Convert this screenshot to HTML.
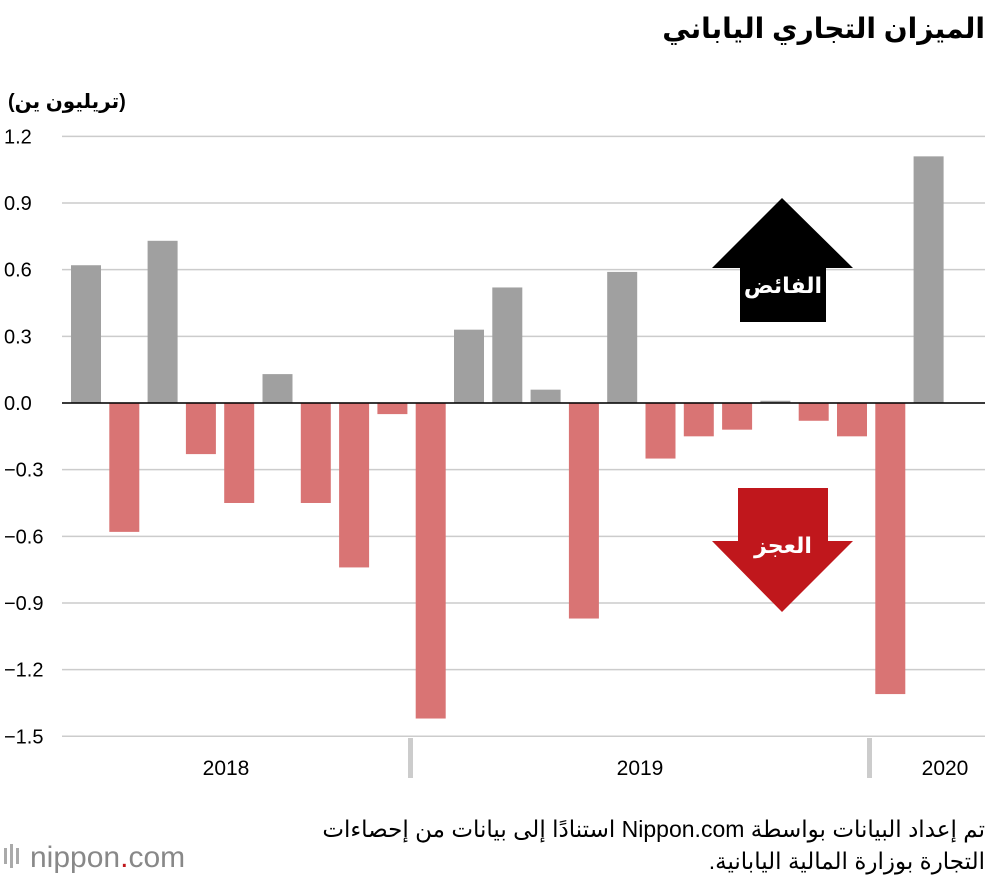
<!DOCTYPE html>
<html lang="ar"><head><meta charset="utf-8">
<style>
body{margin:0;background:#fff;width:1000px;height:880px;overflow:hidden;font-family:"Liberation Sans","DejaVu Sans",sans-serif;}
svg text{font-family:"Liberation Sans","DejaVu Sans",sans-serif;}
</style></head><body>
<svg id="c" width="1000" height="880">
<text x="985" y="38" text-anchor="start" font-size="28" font-weight="bold" fill="#000" direction="rtl">الميزان التجاري الياباني</text>
<text x="8" y="108" font-size="20" font-weight="bold" fill="#000" direction="rtl" text-anchor="end">(تريليون ين)</text>
<g id="grid"></g><g id="bars"></g>
<g>
<polygon points="712,268 782,198 853,268 826,268 826,322 740,322 740,268" fill="#000"/>
<text x="783" y="293" text-anchor="middle" font-size="22" font-weight="bold" fill="#fff">الفائض</text>
</g>
<g>
<polygon points="738,488 828,488 828,541 853,541 782,612 712,541 738,541" fill="#c0171c"/>
<text x="783" y="553" text-anchor="middle" font-size="22" font-weight="bold" fill="#fff">العجز</text>
</g>
<rect x="408" y="738" width="5" height="40" fill="#ccc"/>
<rect x="867" y="738" width="5" height="40" fill="#ccc"/>
<text x="226" y="775" text-anchor="middle" font-size="21" fill="#000">2018</text>
<text x="640" y="775" text-anchor="middle" font-size="21" fill="#000">2019</text>
<text x="945" y="775" text-anchor="middle" font-size="21" fill="#000">2020</text>
<text x="985" y="837" text-anchor="start" font-size="23" fill="#000" direction="rtl">تم إعداد البيانات بواسطة Nippon.com استنادًا إلى بيانات من إحصاءات</text>
<text x="985" y="869" text-anchor="start" font-size="23" fill="#000" direction="rtl">التجارة بوزارة المالية اليابانية.</text>
<g>
<rect x="4" y="848" width="3" height="16" fill="#aaa"/><rect x="10" y="844" width="3" height="24" fill="#aaa"/><rect x="16" y="848" width="3" height="16" fill="#aaa"/>
<text x="30" y="867" font-size="30" fill="#888">nippon<tspan fill="#c0171c">.</tspan>com</text>
</g>
</svg>
<script>
const months=["Apr18","May18","Jun18","Jul18","Aug18","Sep18","Oct18","Nov18","Dec18","Jan19","Feb19","Mar19","Apr19","May19","Jun19","Jul19","Aug19","Sep19","Oct19","Nov19","Dec19","Jan20","Feb20"];
const values=[0.62,-0.58,0.73,-0.23,-0.45,0.13,-0.45,-0.74,-0.05,-1.42,0.33,0.52,0.06,-0.97,0.59,-0.25,-0.15,-0.12,0.01,-0.08,-0.15,-1.31,1.11];
const ticks=[1.2,0.9,0.6,0.3,0,-0.3,-0.6,-0.9,-1.2,-1.5];
const ns="http://www.w3.org/2000/svg";
const y=v=>403-v*222.2;
const x=i=>71+i*38.3;
const grid=document.getElementById('grid'),bars=document.getElementById('bars');
ticks.forEach(t=>{
 const l=document.createElementNS(ns,'line');
 l.setAttribute('x1',62);l.setAttribute('x2',985);l.setAttribute('y1',y(t));l.setAttribute('y2',y(t));
 l.setAttribute('stroke','#ccc');l.setAttribute('stroke-width','1.5');
 
 
 grid.appendChild(l);
 const tx=document.createElementNS(ns,'text');
 tx.setAttribute('x',4);tx.setAttribute('y',y(t)+7);tx.setAttribute('font-size','20');
 tx.textContent=t===0?'0.0':(t<0?'\u2212'+Math.abs(t).toFixed(1):t.toFixed(1));
 
 
 grid.appendChild(tx);
});
values.forEach((v,i)=>{
 const r=document.createElementNS(ns,'rect');
 r.setAttribute('x',x(i));r.setAttribute('width',30);
 r.setAttribute('y',Math.min(y(v),y(0)));r.setAttribute('height',Math.abs(y(v)-y(0)));
 r.setAttribute('fill',v>=0?'#a0a0a0':'#d97474');
 
 
 bars.appendChild(r);
});
const z=document.createElementNS(ns,'line');
z.setAttribute('x1',62);z.setAttribute('x2',985);z.setAttribute('y1',y(0));z.setAttribute('y2',y(0));
z.setAttribute('stroke','#000');z.setAttribute('stroke-width','1.5');


bars.appendChild(z);
</script>
</body></html>
